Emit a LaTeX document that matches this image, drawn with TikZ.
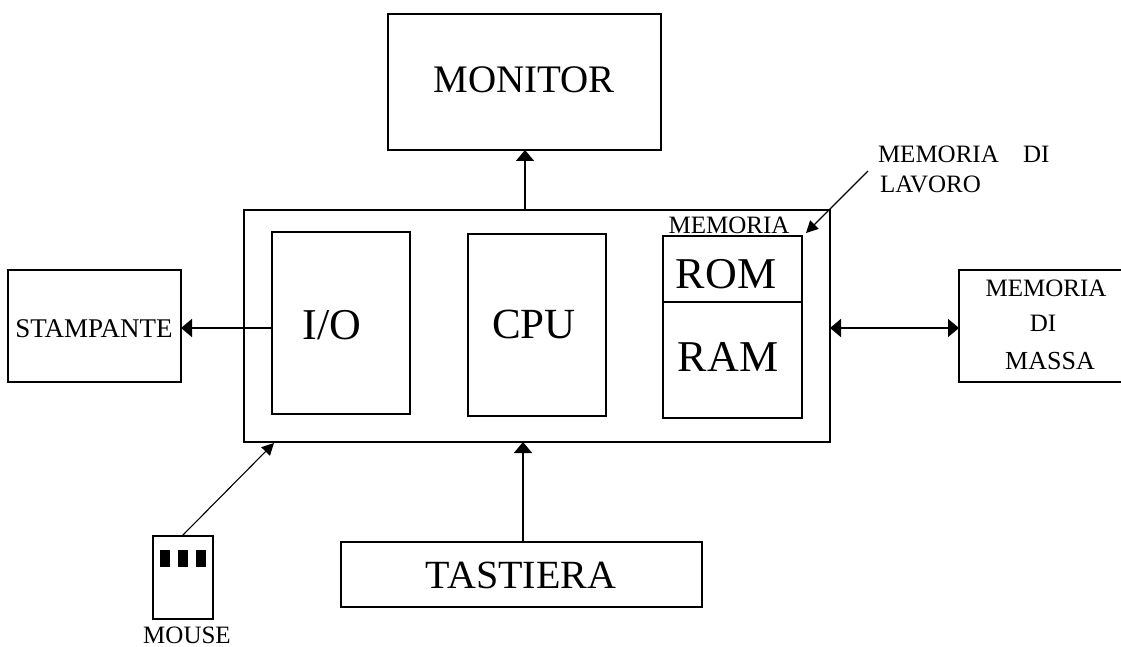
\documentclass[tikz,border=0pt]{standalone}
\usepackage{fontspec}
\setmainfont{Liberation Serif}
\usepackage{tikz}
\usetikzlibrary{arrows.meta,positioning}
\tikzset{
	every node/.style={inner sep=0pt,outer sep=0pt},
	box/.style={draw,line width=1.5pt,anchor=north west},
	lab/.style={font=\fontsize{#1}{#1}\selectfont,align=center},
	link/.style={line width=1.6pt,-{Triangle[length=11pt,width=18pt]}},
	thinlink/.style={line width=1.1pt,-{Triangle[length=12pt,width=12pt]}},
}
\begin{document}
\begin{tikzpicture}[x=1pt,y=-1pt]
	\useasboundingbox (0,0) rectangle (1121,647);
	% boxes
	\node[box,minimum width=273pt,minimum height=136pt] (monitor) at (388,14) {};
	\node[box,minimum width=586pt,minimum height=232pt] (main) at (244,210) {};
	\node[box,minimum width=138pt,minimum height=182pt] (io) at (272,232) {};
	\node[box,minimum width=138pt,minimum height=182pt] (cpu) at (468,234) {};
	\node[box,minimum width=139pt,minimum height=182pt] (mem) at (663,236) {};
	\node[box,minimum width=173pt,minimum height=112pt] (stamp) at (8,270) {};
	\node[box,minimum width=170pt,minimum height=112pt] (massa) at (959,270) {};
	\node[box,minimum width=361pt,minimum height=65pt] (tast) at (341,542) {};
	\node[box,minimum width=60pt,minimum height=83pt] (mouse) at (153,536) {};
	\coordinate (romw) at (663,302);
	\coordinate (rome) at (802,302);
	\draw[line width=1.5pt] (romw) -- (rome);
	% mouse buttons
	\foreach \k/\bx in {1/160,2/178,3/196}
		\node[fill=black,anchor=north west,minimum width=10pt,minimum height=17pt] (btn\k) at (\bx,550) {};
	% labels
	\node[lab=39] (tmon) at (524,80) {MONITOR};
	\node[lab=44] (tio) at (332,325) {I/O};
	\node[lab=43] (tcpu) at (534,324) {CPU};
	\node[lab=44] (trom) at (726,274) {ROM};
	\node[lab=44] (tram) at (728,357) {RAM};
	\node[lab=25] (tmem) at (729,225) {MEMORIA};
	\node[lab=27] (tstamp) at (94,329) {STAMPANTE};
	\node[lab=40] (ttast) at (521,575) {TASTIERA};
	\node[lab=25] (tmouse) at (187,635) {MOUSE};
	\node[lab=25] (tm1) at (1046,288) {MEMORIA};
	\node[lab=25] (tm2) at (1043,323) {DI};
	\node[lab=26] (tm3) at (1050,361) {MASSA};
	\node[lab=25,anchor=west] (tlav1) at (878,154) {MEMORIA\hspace{0.72em} DI};
	\node[lab=25,anchor=west] (tlav2) at (880,184) {LAVORO};
	% connectors
	\coordinate (monin) at (525,150);
	\coordinate (monout) at (525,210);
	\coordinate (tastin) at (523,442);
	\coordinate (tastout) at (523,542);
	\coordinate (mouseout) at (182,536);
	\coordinate (mousein) at (274,443);
	\coordinate (lavfrom) at (868,171);
	\coordinate (lavto) at (806,233);
	\draw[link] (monout) -- (monin);
	\draw[link] (tastout) -- (tastin);
	\draw[link] (io.west |- 0,328) -- (stamp.east |- 0,328);
	\draw[link,{Triangle[length=11pt,width=18pt]}-{Triangle[length=11pt,width=18pt]}] (main.east |- 0,328) -- (massa.west |- 0,328);
	\draw[thinlink] (mouseout) -- (mousein);
	\draw[thinlink] (lavfrom) -- (lavto);
\end{tikzpicture}
\end{document}
